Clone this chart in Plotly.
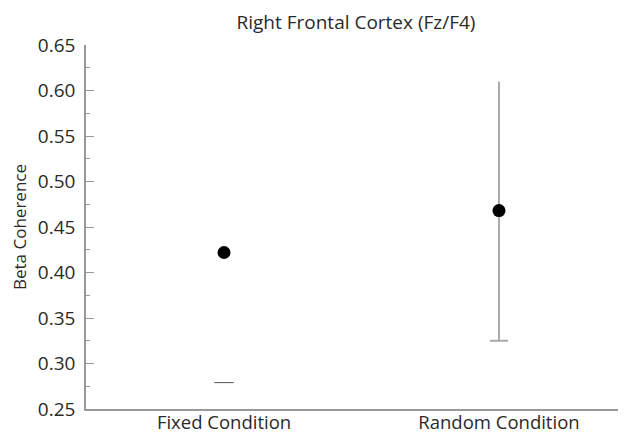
import plotly.graph_objects as go

categories = ["Fixed Condition", "Random Condition"]
means = [0.422, 0.468]
lower = [0.279, 0.325]
upper = [None, 0.610]

fig = go.Figure()

# Random condition error line
fig.add_trace(go.Scatter(
    x=[categories[1], categories[1]], y=[lower[1], upper[1]],
    mode="lines", line=dict(color="#aaaaaa", width=2),
    hoverinfo="skip", showlegend=False))

# Lower caps
fig.add_trace(go.Scatter(
    x=[categories[0]], y=[lower[0]], mode="markers",
    marker=dict(symbol="line-ew", size=14, line=dict(color="#555555", width=1)),
    showlegend=False))
fig.add_trace(go.Scatter(
    x=[categories[1]], y=[lower[1]], mode="markers",
    marker=dict(symbol="line-ew", size=13, line=dict(color="#aaaaaa", width=2)),
    showlegend=False))

# Means
fig.add_trace(go.Scatter(
    x=categories, y=means, mode="markers",
    marker=dict(color="black", size=13), showlegend=False))

font = "'Open Sans', sans-serif"
W, H = 618, 430  # page body has an 8px margin
fig.update_layout(
    width=W, height=H,
    margin=dict(l=78, r=0, t=37, b=29, autoexpand=False),
    paper_bgcolor="white", plot_bgcolor="white",
    font=dict(family=font, color="#2a2a2a"),
    title=dict(text="Right Frontal Cortex (Fz/F4)", x=0.5, xref="paper",
               y=1 - 14 / H, yanchor="middle", font=dict(size=19, color="#2a2a2a")),
    xaxis=dict(type="category", categoryorder="array", categoryarray=categories,
               range=[-0.502, 1.462], showgrid=False, automargin=False,
               showline=True, linecolor="#999999", linewidth=1.5,
               ticks="", ticklabelstandoff=-4,
               tickfont=dict(size=18.5, color="#2a2a2a"), zeroline=False),
    yaxis=dict(range=[0.25, 0.65], dtick=0.05, tickformat=".2f", showgrid=False,
               showline=True, linecolor="#999999", linewidth=1.5, automargin=False,
               ticks="inside", ticklen=8, tickcolor="#999999", ticklabelstandoff=5,
               minor=dict(dtick=0.025, ticks="inside", ticklen=4, tickcolor="#999999"),
               tickfont=dict(size=19, color="#2a2a2a"), zeroline=False,
               title=dict(text="Beta Coherence", font=dict(size=17, color="#2a2a2a"), standoff=9)),
)

fig.write_html("out.html")
